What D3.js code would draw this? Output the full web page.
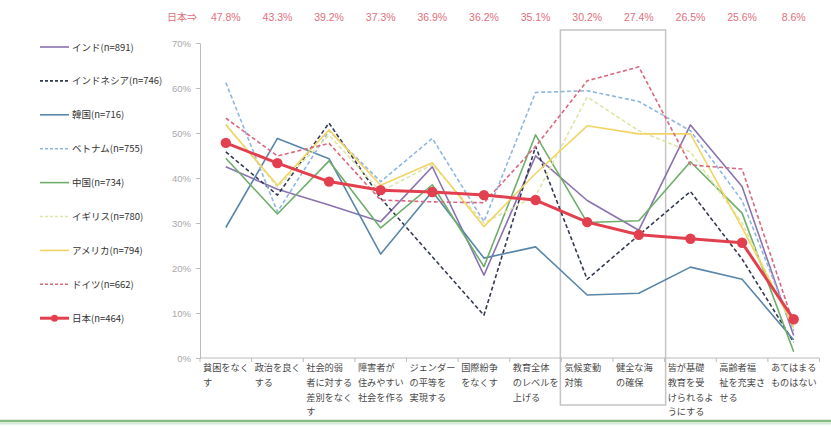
<!DOCTYPE html>
<html lang="ja">
<head>
<meta charset="UTF-8">
<title>SDGs 国別比較</title>
<style>
  body { margin: 0; background: #fff; }
  svg { display: block; font-family: "Noto Sans CJK JP", "Noto Sans", sans-serif; }
</style>
<script src="https://cdn.jsdelivr.net/npm/d3@7"></script>
</head>
<body>
<svg id="chart" width="831" height="427"></svg>
<script>
// categories (x axis), each label split into its wrapped lines
const categories = [
  ["貧困をなく", "す"],
  ["政治を良く", "する"],
  ["社会的弱", "者に対する", "差別をなく", "す"],
  ["障害者が", "住みやすい", "社会を作る"],
  ["ジェンダー", "の平等を", "実現する"],
  ["国際紛争", "をなくす"],
  ["教育全体", "のレベルを", "上げる"],
  ["気候変動", "対策"],
  ["健全な海", "の確保"],
  ["皆が基礎", "教育を受", "けられるよ", "うにする"],
  ["高齢者福", "祉を充実さ", "せる"],
  ["あてはまる", "ものはない"]
];

// series values (%)
const india     = [42.5, 37.5, 34.0, 30.3, 42.5, 18.4, 44.9, 35.0, 28.4, 51.8, 38.1, 5.0];
const indonesia = [45.8, 36.2, 52.2, 35.5, 22.5, 9.5, 47.0, 17.5, 27.3, 37.0, 22.0, 3.5];
const korea     = [29.0, 48.8, 44.3, 23.1, 37.0, 22.2, 24.7, 14.0, 14.4, 20.2, 17.5, 4.0];
const vietnam   = [61.2, 32.5, 50.5, 39.2, 48.8, 30.3, 59.0, 59.4, 57.0, 50.5, 35.0, 6.0];
const china     = [44.4, 32.0, 43.8, 28.9, 38.5, 20.3, 49.6, 30.1, 30.5, 43.6, 32.2, 1.4];
const uk        = [52.0, 38.0, 49.5, 37.0, 43.0, 30.0, 36.0, 58.0, 50.5, 45.8, 30.0, 6.5];
const usa       = [51.8, 38.4, 50.7, 38.4, 43.4, 29.2, 41.0, 51.6, 49.8, 49.8, 29.0, 7.0];
const germany   = [53.3, 44.9, 47.7, 35.1, 34.7, 34.5, 47.0, 61.6, 64.7, 42.9, 42.0, 7.5];
const japan     = [47.8, 43.3, 39.2, 37.3, 36.9, 36.2, 35.1, 30.2, 27.4, 26.5, 25.6, 8.6];

const seriesNames = ["インド(n=891)", "インドネシア(n=746)", "韓国(n=716)", "ベトナム(n=755)",
  "中国(n=734)", "イギリス(n=780)", "アメリカ(n=794)", "ドイツ(n=662)", "日本(n=464)"];
const seriesValues = [india, indonesia, korea, vietnam, china, uk, usa, germany, japan];
const seriesColors = ["#8a72b0", "#323a52", "#5a86aa", "#8fb7e0", "#6fae6a", "#dde6a6", "#f2d466", "#d8687e", "#e2404e"];
const seriesDashed = [false, true, false, true, false, true, false, true, false];

const yTicks = [0, 10, 20, 30, 40, 50, 60, 70];

const svg = d3.select("#chart");
const idx = d3.range(categories.length);

const x = d3.scaleBand().domain(idx).range([200, 819.5]).padding(0);
const y = d3.scaleLinear().domain([0, 70]).range([358, 43]);
const cx = i => x(i) + x.bandwidth() / 2;

// highlight box round 気候変動 / 健全な海
svg.append("rect")
  .attr("x", x(7) - 1).attr("y", 30)
  .attr("width", x.bandwidth() * 2 + 2).attr("height", 375)
  .attr("fill", "none").attr("stroke", "#c4c4c4").attr("stroke-width", 1.5);

// y axis
const yAxis = svg.append("g").attr("transform", "translate(200,0)")
  .call(d3.axisLeft(y).tickValues(yTicks).tickFormat(d => d + "%").tickSize(4).tickSizeOuter(0));
yAxis.select(".domain").attr("stroke", "#bbb");
yAxis.selectAll(".tick line").attr("stroke", "#bbb");
yAxis.selectAll(".tick text").attr("fill", "#a8a8a8").attr("font-size", 9.5).attr("x", -9)
  .attr("font-family", "Liberation Sans, sans-serif");

// x axis
const xAxis = svg.append("g").attr("transform", "translate(0,358)");
xAxis.append("line").attr("x1", 200).attr("x2", 819.5).attr("stroke", "#bbb");
xAxis.selectAll("line.tk").data(d3.range(categories.length + 1)).enter().append("line")
  .attr("class", "tk")
  .attr("x1", i => 200 + i * x.bandwidth()).attr("x2", i => 200 + i * x.bandwidth())
  .attr("y1", 0).attr("y2", 4).attr("stroke", "#bbb");

const lab = svg.append("g").selectAll("text").data(categories).enter().append("text")
  .attr("font-size", 9.2).attr("fill", "#484848");
lab.each(function (lines, i) {
  d3.select(this).selectAll("tspan").data(lines).enter().append("tspan")
    .attr("x", x(i) + 3).attr("y", (d, k) => 371 + k * 14.8).text(d => d);
});

// lines
const line = d3.line().x((d, i) => cx(i)).y(d => y(d));
seriesValues.forEach((vals, s) => {
  svg.append("path").datum(vals)
    .attr("d", line)
    .attr("fill", "none")
    .attr("stroke", seriesColors[s])
    .attr("stroke-width", s === 8 ? 3 : 1.6)
    .attr("stroke-dasharray", seriesDashed[s] ? "4,2.5" : null)
    .attr("stroke-linejoin", "round");
});
svg.append("g").selectAll("circle").data(japan).enter().append("circle")
  .attr("cx", (d, i) => cx(i)).attr("cy", d => y(d)).attr("r", 5.2)
  .attr("fill", seriesColors[8]);

// top row with Japan's values
svg.append("text").attr("x", 167).attr("y", 21).attr("font-size", 10).attr("fill", "#e0707c").text("日本⇒");
svg.append("g").selectAll("text").data(japan).enter().append("text")
  .attr("x", (d, i) => cx(i)).attr("y", 21).attr("text-anchor", "middle")
  .attr("font-size", 10.5).attr("fill", "#e0707c")
  .attr("font-family", "Liberation Sans, sans-serif")
  .text(d => d.toFixed(1) + "%");

// legend
const leg = svg.append("g").selectAll("g").data(seriesNames).enter().append("g")
  .attr("transform", (d, i) => `translate(40,${47 + i * 33.9})`);
leg.append("line").attr("x1", 0).attr("x2", 29)
  .attr("stroke", (d, i) => seriesColors[i])
  .attr("stroke-width", (d, i) => i === 8 ? 3 : 1.6)
  .attr("stroke-dasharray", (d, i) => seriesDashed[i] ? "3,2" : null);
leg.filter((d, i) => i === 8).append("circle").attr("cx", 14.5).attr("r", 3.5).attr("fill", seriesColors[8]);
leg.append("text").attr("x", 32).attr("y", 3.5).attr("font-size", 9.5).attr("fill", "#333").text(d => d);

// green rule at the bottom
svg.append("line").attr("x1", 0).attr("x2", 831).attr("y1", 421).attr("y2", 421)
  .attr("stroke", "#86bd86").attr("stroke-width", 2.5);
svg.append("line").attr("x1", 0).attr("x2", 831).attr("y1", 423.5).attr("y2", 423.5)
  .attr("stroke", "#d6ead6").attr("stroke-width", 2);
</script>
</body>
</html>
